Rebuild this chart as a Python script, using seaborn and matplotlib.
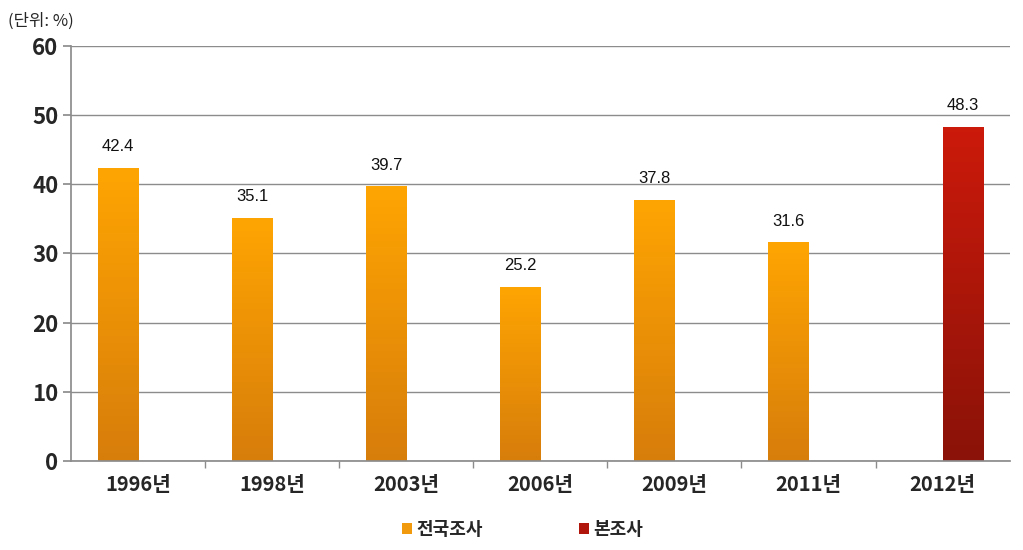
import matplotlib.pyplot as plt
import numpy as np
import pandas as pd
import seaborn as sns
from matplotlib.colors import LinearSegmentedColormap
from matplotlib.patches import Patch

sns.set_theme(style="white")
plt.rcParams["font.family"] = ["Noto Sans CJK KR", "DejaVu Sans"]

years = ["1996년", "1998년", "2003년", "2006년", "2009년", "2011년", "2012년"]
national_years = ["1996년", "1998년", "2003년", "2006년", "2009년", "2011년"]
national_values = [42.4, 35.1, 39.7, 25.2, 37.8, 31.6]
this_years = ["2012년"]
this_values = [48.3]
series = ["전국조사", "본조사"]

df = pd.DataFrame({
    "year": national_years + this_years,
    "value": national_values + this_values,
    "survey": [series[0]] * len(national_values) + [series[1]] * len(this_values),
})

colors = {"전국조사": "#F29A0E", "본조사": "#B0160B"}
gradients = {
    "전국조사": LinearSegmentedColormap.from_list("o", ["#D77D0B", "#FFA502"]),
    "본조사": LinearSegmentedColormap.from_list("r", ["#8A1208", "#CC1A0B"]),
}

fig = plt.figure(figsize=(10.23, 5.5), dpi=100)
ax = fig.add_axes([0.0694, 0.1618, 0.9176, 0.7546])

sns.barplot(df, x="year", y="value", hue="survey", order=years, hue_order=series,
            palette=colors, width=0.6, dodge=True, legend=False, ax=ax)

# gradient fill for each bar
grad = np.linspace(0, 1, 256).reshape(-1, 1)
for patch in list(ax.patches):
    h = patch.get_height()
    if not np.isfinite(h) or h == 0:
        continue
    fc = patch.get_facecolor()
    key = "전국조사" if fc[1] > 0.3 else "본조사"
    x0 = patch.get_x()
    w = patch.get_width()
    patch.set_facecolor("none")
    patch.set_edgecolor("none")
    im = ax.imshow(grad, cmap=gradients[key], origin="lower", aspect="auto",
                   extent=[x0, x0 + w, 0, h], zorder=2)
    im.set_clip_path(patch)
    ax.text(x0 + w / 2, h + 2.0, f"{h:.1f}", ha="center", va="bottom",
            fontsize=12, color="#111111", family=["Liberation Sans", "DejaVu Sans"])

ax.set_xlim(-0.5, len(years) - 0.5)
ax.set_ylim(0, 60)
ax.set_yticks(range(0, 61, 10))
ax.yaxis.grid(True, color="#8c8c8c", linewidth=1)
ax.set_axisbelow(True)
for s in ["top", "right"]:
    ax.spines[s].set_visible(False)
ax.spines["left"].set_color("#8c8c8c")
ax.spines["bottom"].set_color("#8c8c8c")
ax.set_xlabel("")
ax.set_ylabel("")
ax.tick_params(axis="y", labelsize=16, pad=3, length=6, color="#8c8c8c", left=True)
ax.tick_params(axis="x", labelsize=14.5, pad=9, length=0)
for lbl in ax.get_yticklabels() + ax.get_xticklabels():
    lbl.set_fontweight("bold")
ax.set_xticks(np.arange(0.5, len(years) - 0.5), minor=True)
ax.tick_params(axis="x", which="minor", length=5, color="#8c8c8c", bottom=True)

fig.text(0.008, 0.962, "(단위: %)", fontsize=12, ha="left", va="center")

handles = [Patch(facecolor=colors[s], edgecolor="none") for s in series]
ax.legend(handles, series, loc="center", bbox_to_anchor=(0.481, -0.165), ncol=2,
          frameon=False, handlelength=0.55, handleheight=0.6, handletextpad=0.25,
          columnspacing=5.3, prop={"weight": "bold", "size": 13})

fig.savefig("out.png", dpi=100)
